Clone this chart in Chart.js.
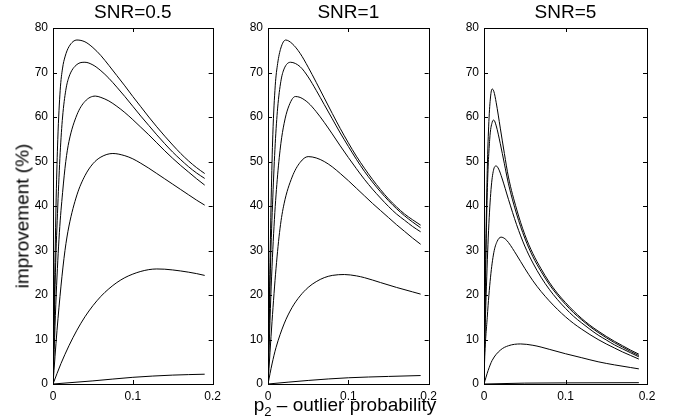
<!DOCTYPE html>
<html>
<head>
<meta charset="utf-8">
<script src="https://cdn.jsdelivr.net/npm/chart.js@4.4.1/dist/chart.umd.min.js"></script>
<style>
    body { margin: 0; background: #fff; }
    #wrap { position: relative; width: 673px; height: 419px; overflow: hidden; font-family: "Liberation Sans", Arial, sans-serif; }
    .panel { position: absolute; top: 0; height: 419px; }
    #ylabel { position: absolute; left: 22px; top: 216px; transform: translate(-50%, -50%) rotate(-90deg); font-size: 19px; white-space: nowrap; line-height: 19px; }
    #xlabel { position: absolute; left: 345px; top: 395px; transform: translateX(-50%); font-size: 19px; white-space: nowrap; line-height: 19px; }
    #xlabel sub { font-size: 13px; vertical-align: -5px; line-height: 0; }
</style>
</head>
<body>
<div id="wrap">
    <div class="panel" style="left:0;width:226px"><canvas id="snr05"></canvas></div>
    <div class="panel" style="left:226px;width:216px"><canvas id="snr1"></canvas></div>
    <div class="panel" style="left:442px;width:231px"><canvas id="snr5"></canvas></div>
    <div id="ylabel">improvement (%)</div>
    <div id="xlabel">p<sub>2</sub> – outlier probability</div>
</div>
<script>
    "use strict";

    // tick values shared by the three panels
    const xTicks = [0, 0.1, 0.2];
    const yTicks = [0, 10, 20, 30, 40, 50, 60, 70, 80];

    // SNR=0.5 curves, [p2, improvement %]
    const snr05_c1 = [[0,0],[0.002,22],[0.004,42],[0.006,55],[0.009,66],[0.012,71],[0.015,73.5],[0.02,75.8],[0.03,77.3],[0.04,76.9],[0.05,75.6],[0.06,73.8],[0.07,71.6],[0.08,69.3],[0.09,67],[0.1,64.6],[0.11,62.3],[0.12,60],[0.13,57.8],[0.14,55.7],[0.15,53.7],[0.16,51.8],[0.17,50.1],[0.18,48.6],[0.19,47.3]];
    const snr05_c2 = [[0,0],[0.003,25],[0.006,40],[0.009,52],[0.012,60],[0.016,66],[0.02,69],[0.03,71.8],[0.04,72.3],[0.05,71.7],[0.06,70.4],[0.07,68.7],[0.08,66.7],[0.09,64.6],[0.1,62.4],[0.11,60.2],[0.12,58.1],[0.13,56],[0.14,54],[0.15,52.1],[0.16,50.4],[0.17,48.8],[0.18,47.4],[0.19,46.2]];
    const snr05_c3 = [[0,0],[0.004,20],[0.008,34],[0.012,43],[0.016,50],[0.02,54.5],[0.03,60.5],[0.04,63.5],[0.053,64.7],[0.06,64.4],[0.07,63.6],[0.08,62.4],[0.09,61],[0.1,59.4],[0.11,57.7],[0.12,56],[0.13,54.2],[0.14,52.4],[0.15,50.7],[0.16,49.1],[0.17,47.6],[0.18,46.1],[0.19,44.7]];
    const snr05_c4 = [[0,0],[0.005,12],[0.01,22],[0.015,30],[0.02,35.5],[0.03,42.5],[0.04,46.8],[0.05,49.5],[0.06,51],[0.075,51.8],[0.09,51.3],[0.1,50.6],[0.11,49.6],[0.12,48.5],[0.13,47.3],[0.14,46.1],[0.15,44.9],[0.16,43.7],[0.17,42.5],[0.18,41.3],[0.19,40.2]];
    const snr05_c5 = [[0,0],[0.01,4.6],[0.02,8.6],[0.03,12.1],[0.04,15.1],[0.05,17.6],[0.06,19.7],[0.07,21.4],[0.08,22.8],[0.09,23.9],[0.1,24.7],[0.11,25.3],[0.12,25.7],[0.13,25.85],[0.14,25.8],[0.16,25.4],[0.18,24.8],[0.19,24.4]];
    const snr05_c6 = [[0,0],[0.05,0.7],[0.1,1.5],[0.15,2],[0.19,2.2]];

    // SNR=1 curves
    const snr1_c1 = [[0,0],[0.002,22],[0.004,42],[0.006,56],[0.009,67],[0.012,72],[0.016,75.5],[0.022,77.3],[0.03,76.5],[0.04,74.3],[0.05,71.2],[0.06,67.8],[0.07,64.3],[0.08,60.8],[0.09,57.4],[0.1,54.2],[0.11,51.2],[0.12,48.5],[0.13,46],[0.14,43.7],[0.15,41.6],[0.16,39.8],[0.17,38.2],[0.18,36.9],[0.19,35.7]];
    const snr1_c2 = [[0,0],[0.003,26],[0.006,42],[0.009,54],[0.012,62],[0.016,68],[0.02,70.8],[0.028,72.3],[0.04,71.3],[0.05,69],[0.06,66],[0.07,62.8],[0.08,59.6],[0.09,56.4],[0.1,53.4],[0.11,50.5],[0.12,47.8],[0.13,45.4],[0.14,43.2],[0.15,41.2],[0.16,39.4],[0.17,37.8],[0.18,36.4],[0.19,35.1]];
    const snr1_c3 = [[0,0],[0.004,22],[0.008,37],[0.012,47],[0.016,54],[0.02,58.5],[0.025,62],[0.034,64.6],[0.04,64.4],[0.05,63.2],[0.06,61.2],[0.07,58.8],[0.08,56.2],[0.09,53.5],[0.1,50.9],[0.11,48.4],[0.12,46],[0.13,43.8],[0.14,41.8],[0.15,39.9],[0.16,38.2],[0.17,36.8],[0.18,35.4],[0.19,34.2]];
    const snr1_c4 = [[0,0],[0.005,14],[0.01,26],[0.015,35],[0.02,40.5],[0.03,46.5],[0.04,49.8],[0.05,51.1],[0.06,50.8],[0.07,50],[0.08,48.8],[0.09,47.3],[0.1,45.7],[0.11,44],[0.12,42.3],[0.13,40.6],[0.14,39],[0.15,37.4],[0.16,35.8],[0.17,34.3],[0.18,32.8],[0.19,31.4]];
    const snr1_c5 = [[0,0],[0.005,4.5],[0.01,8.2],[0.02,13.5],[0.03,17.2],[0.04,19.8],[0.05,21.7],[0.06,23],[0.07,23.9],[0.08,24.4],[0.095,24.6],[0.11,24.3],[0.12,23.9],[0.14,22.8],[0.16,21.7],[0.18,20.7],[0.19,20.2]];
    const snr1_c6 = [[0,0],[0.05,0.8],[0.1,1.4],[0.15,1.7],[0.19,1.9]];

    // SNR=5 curves
    const snr5_c1 = [[0,0],[0.0005,6],[0.002,28],[0.004,48],[0.006,59],[0.008,64.5],[0.01,66.3],[0.012,65.8],[0.015,63.2],[0.02,57.5],[0.025,51.8],[0.03,46.5],[0.04,39.3],[0.05,33.6],[0.06,29.3],[0.07,25.9],[0.08,22.9],[0.09,20.4],[0.1,18.3],[0.11,16.4],[0.12,14.7],[0.13,13.2],[0.14,11.9],[0.15,10.7],[0.16,9.6],[0.17,8.6],[0.18,7.6],[0.19,6.7]];
    const snr5_c2 = [[0,0],[0.0005,6],[0.002,25],[0.004,43],[0.007,55],[0.01,58.8],[0.012,59.3],[0.015,58],[0.02,54],[0.025,49.5],[0.03,45],[0.04,38.2],[0.05,32.8],[0.06,28.6],[0.07,25.3],[0.08,22.4],[0.09,20],[0.1,17.9],[0.11,16],[0.12,14.4],[0.13,12.9],[0.14,11.6],[0.15,10.4],[0.16,9.3],[0.17,8.3],[0.18,7.3],[0.19,6.4]];
    const snr5_c3 = [[0,0],[0.0005,5.5],[0.003,22],[0.006,36],[0.009,44.5],[0.012,48.3],[0.015,49],[0.018,48.3],[0.022,46.3],[0.03,41.5],[0.04,35.8],[0.05,31],[0.06,27.2],[0.07,24],[0.08,21.3],[0.09,19],[0.1,17],[0.11,15.2],[0.12,13.7],[0.13,12.3],[0.14,11],[0.15,9.9],[0.16,8.8],[0.17,7.9],[0.18,7],[0.19,6.1]];
    const snr5_c4 = [[0,0],[0.0005,4],[0.004,15],[0.008,24],[0.012,29.5],[0.016,32],[0.021,33],[0.026,32.6],[0.03,31.8],[0.04,29],[0.05,26],[0.06,23.2],[0.07,20.8],[0.08,18.7],[0.09,16.8],[0.1,15.1],[0.11,13.6],[0.12,12.3],[0.13,11.1],[0.14,10],[0.15,9],[0.16,8.1],[0.17,7.2],[0.18,6.4],[0.19,5.6]];
    const snr5_c5 = [[0,0],[0.005,3],[0.01,5.3],[0.02,7.6],[0.03,8.6],[0.045,9],[0.06,8.7],[0.07,8.3],[0.08,7.8],[0.1,6.8],[0.12,5.9],[0.14,5],[0.16,4.3],[0.18,3.7],[0.19,3.4]];
    const snr5_c6 = [[0,0],[0.05,0.2],[0.1,0.25],[0.19,0.3]];

    const FONT = "'Liberation Sans', Arial, Helvetica, sans-serif";

    // matlab style box with inward ticks on all four sides
    const boxTicks = {
        id: 'boxTicks',
        afterDraw(chart) {
            const {ctx, chartArea: a, scales: {x, y}} = chart;
            const len = 4;
            ctx.save();
            ctx.strokeStyle = '#000';
            ctx.lineWidth = 1;
            ctx.beginPath();
            xTicks.forEach(function (v) {
                const px = Math.round(x.getPixelForValue(v)) + 0.5;
                ctx.moveTo(px, a.bottom); ctx.lineTo(px, a.bottom - len);
                ctx.moveTo(px, a.top); ctx.lineTo(px, a.top + len);
            });
            yTicks.forEach(function (v) {
                const py = Math.round(y.getPixelForValue(v)) + 0.5;
                ctx.moveTo(a.left, py); ctx.lineTo(a.left + len, py);
                ctx.moveTo(a.right, py); ctx.lineTo(a.right - len, py);
            });
            ctx.stroke();
            ctx.strokeRect(Math.round(a.left) + 0.5, Math.round(a.top) + 0.5,
                Math.round(a.right - a.left), Math.round(a.bottom - a.top));
            ctx.restore();
        }
    };

    function toPoints(list) {
        return list.map(function (p) { return {x: p[0], y: p[1]}; });
    }

    function makePanel(id, title, curves, yWidth, rightPad) {
        new Chart(document.getElementById(id), {
            type: 'line',
            data: {
                datasets: curves.map(function (c) {
                    return {
                        data: toPoints(c),
                        borderColor: '#000',
                        borderWidth: 1,
                        pointRadius: 0,
                        fill: false,
                        cubicInterpolationMode: 'monotone',
                    };
                }),
            },
            options: {
                responsive: true,
                maintainAspectRatio: false,
                animation: false,
                events: [],
                layout: {
                    padding: {left: 0, right: rightPad, top: 0, bottom: 0},
                },
                plugins: {
                    legend: {display: false},
                    tooltip: {enabled: false},
                    title: {
                        display: true,
                        text: title,
                        fullSize: false,
                        color: '#000',
                        font: {family: FONT, size: 19, weight: 'normal'},
                        padding: {top: 1.5, bottom: 3.7},
                    },
                },
                scales: {
                    x: {
                        type: 'linear',
                        min: 0,
                        max: 0.2,
                        afterBuildTicks: function (scale) {
                            scale.ticks = xTicks.map(function (v) { return {value: v}; });
                        },
                        afterFit: function (scale) { scale.height = 35; },
                        grid: {display: false, drawTicks: false},
                        border: {display: false},
                        ticks: {
                            color: '#000',
                            padding: 5,
                            maxRotation: 0,
                            font: {family: FONT, size: 12},
                        },
                    },
                    y: {
                        min: 0,
                        max: 80,
                        afterBuildTicks: function (scale) {
                            scale.ticks = yTicks.map(function (v) { return {value: v}; });
                        },
                        afterFit: function (scale) { scale.width = yWidth; },
                        grid: {display: false, drawTicks: false},
                        border: {display: false},
                        ticks: {
                            color: '#000',
                            padding: 5,
                            font: {family: FONT, size: 12},
                        },
                    },
                },
            },
            plugins: [boxTicks],
        });
    }

    makePanel('snr05', 'SNR=0.5', [snr05_c1, snr05_c2, snr05_c3, snr05_c4, snr05_c5, snr05_c6], 53, 10);
    makePanel('snr1', 'SNR=1', [snr1_c1, snr1_c2, snr1_c3, snr1_c4, snr1_c5, snr1_c6], 42, 11);
    makePanel('snr5', 'SNR=5', [snr5_c1, snr5_c2, snr5_c3, snr5_c4, snr5_c5, snr5_c6], 42, 26);
</script>
</body>
</html>
